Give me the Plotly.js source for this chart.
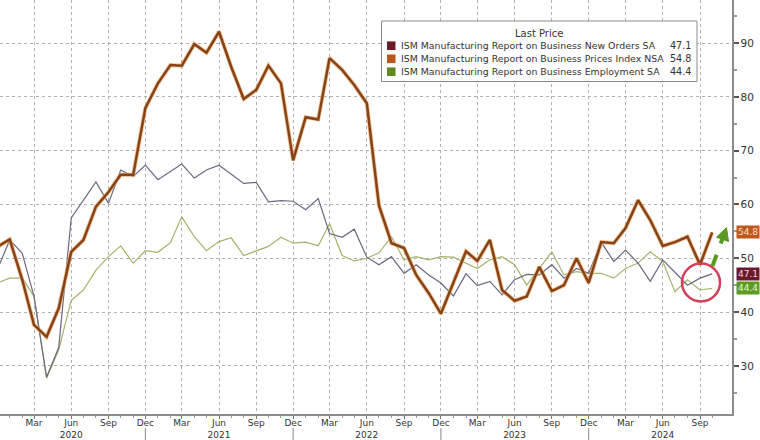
<!DOCTYPE html>
<html>
<head>
<meta charset="utf-8">
<script src="https://cdn.plot.ly/plotly-3.0.1.min.js"></script>
<style>
  html, body { margin: 0; padding: 0; background: #fff; }
  #chart { width: 760px; height: 440px; }
</style>
</head>
<body>
<div id="chart"></div>
<script>
// ---- Data ----
const months = [
  "2019-12",
  "2020-01","2020-02","2020-03","2020-04","2020-05","2020-06","2020-07","2020-08","2020-09","2020-10","2020-11","2020-12",
  "2021-01","2021-02","2021-03","2021-04","2021-05","2021-06","2021-07","2021-08","2021-09","2021-10","2021-11","2021-12",
  "2022-01","2022-02","2022-03","2022-04","2022-05","2022-06","2022-07","2022-08","2022-09","2022-10","2022-11","2022-12",
  "2023-01","2023-02","2023-03","2023-04","2023-05","2023-06","2023-07","2023-08","2023-09","2023-10","2023-11","2023-12",
  "2024-01","2024-02","2024-03","2024-04","2024-05","2024-06","2024-07","2024-08","2024-09","2024-10"
];

const newOrders = [
  47.8,
  53.4, 50.9, 42.9, 27.9, 33.4, 57.5, 60.8, 64.2, 60.2, 66.4, 65.2, 67.3,
  64.6, 66.1, 67.5, 64.9, 66.4, 67.3, 65.7, 63.9, 64.1, 60.5, 60.7, 60.6,
  59.0, 61.1, 54.6, 53.9, 55.4, 50.2, 48.8, 50.3, 47.2, 48.8, 46.9, 45.4,
  43.0, 47.1, 44.9, 45.7, 43.2, 46.0, 47.0, 46.9, 48.8, 46.3, 48.1, 47.2,
  53.0, 49.4, 51.5, 49.1, 45.7, 49.7, 47.4, 45.0, 46.3, 47.1
];

const prices = [
  52.1,
  53.5, 46.0, 37.6, 35.4, 40.7, 51.2, 53.4, 59.6, 62.3, 65.5, 65.5, 77.9,
  82.5, 85.9, 85.8, 89.8, 88.2, 92.1, 85.6, 79.6, 81.3, 85.8, 82.5, 68.2,
  76.2, 75.8, 87.2, 85.0, 82.2, 78.8, 59.8, 52.8, 51.9, 46.9, 43.5, 39.7,
  45.5, 51.3, 49.5, 53.4, 44.1, 42.1, 42.9, 48.4, 43.9, 45.0, 50.0, 45.4,
  53.0, 52.8, 55.6, 60.8, 57.1, 52.3, 53.0, 54.0, 48.8, 54.8
];

const employment = [
  45.4,
  46.3, 46.3, 42.9, 27.7, 33.0, 42.2, 44.1, 47.8, 50.3, 52.3, 49.1, 51.4,
  51.1, 52.9, 57.7, 54.0, 51.4, 53.1, 53.8, 50.5, 51.4, 52.2, 53.9, 52.8,
  53.0, 52.3, 56.4, 50.5, 49.5, 50.0, 51.0, 54.0, 49.7, 50.3, 49.7, 50.3,
  50.2, 49.1, 48.1, 49.7, 50.3, 48.8, 45.0, 48.1, 51.2, 46.9, 47.5, 47.2,
  47.2, 46.3, 48.1, 49.1, 51.2, 49.4, 43.8, 46.0, 44.1, 44.4
];

const seriesNames = [
  "ISM Manufacturing Report on Business New Orders SA",
  "ISM Manufacturing Report on Business Prices Index NSA",
  "ISM Manufacturing Report on Business Employment SA"
];

const tickDates = [
  "2020-03","2020-06","2020-09","2020-12",
  "2021-03","2021-06","2021-09","2021-12",
  "2022-03","2022-06","2022-09","2022-12",
  "2023-03","2023-06","2023-09","2023-12",
  "2024-03","2024-06","2024-09"
];
const tickLabels = [
  "Mar","Jun<br>2020","Sep","Dec",
  "Mar","Jun<br>2021","Sep","Dec",
  "Mar","Jun<br>2022","Sep","Dec",
  "Mar","Jun<br>2023","Sep","Dec",
  "Mar","Jun<br>2024","Sep"
];
const yearSeparators = ["2020-12","2021-12","2022-12","2023-12"];
const yTicks = [30, 40, 50, 60, 70, 80, 90];
const yMinorTicks = [25, 35, 45, 55, 65, 75, 85, 95];

// ---- Styles ----
const legendColors = ["#6a1a24", "#b9561c", "#5b8b22"];
const boxColors    = ["#6a1a2c", "#c0581c", "#5d9a22"];
const boxText      = ["#f3d6dc", "#fbe0c8", "#e6f3d2"];
const FONT = "DejaVu Sans, Verdana, sans-serif";

const W = 760, H = 440;
const M = { l: 0, r: 28, t: 0, b: 26 };
const PW = W - M.l - M.r, PH = H - M.t - M.b;
const px = x => (x - M.l) / PW;
const py = y => 1 - (y - M.t) / PH;

const last = arr => arr[arr.length - 1];
const seriesData = [newOrders, prices, employment];

const traces = [
  { x: months, y: employment, type: "scatter", mode: "lines",
    line: { color: "#a2b46c", width: 1.2 }, hoverinfo: "skip" },
  { x: months, y: newOrders, type: "scatter", mode: "lines",
    line: { color: "#6d6880", width: 1.2 }, hoverinfo: "skip" },
  { x: months, y: prices, type: "scatter", mode: "lines",
    line: { color: "#f2a55a", width: 4.2 }, opacity: 0.65, hoverinfo: "skip" },
  { x: months, y: prices, type: "scatter", mode: "lines",
    line: { color: "#85431a", width: 2.5 }, hoverinfo: "skip" }
];

const shapes = [];
const annotations = [];

// Year separator lines below the x axis
yearSeparators.forEach(d => {
  shapes.push({ type: "line", xref: "x", yref: "paper", x0: d, x1: d,
    y0: -0.034, y1: -0.07, line: { color: "#888", width: 1 } });
});

// Legend box
shapes.push({ type: "rect", xref: "paper", yref: "paper",
  x0: px(381.5), x1: px(697), y0: py(81.5), y1: py(21),
  line: { color: "#8a8a8a", width: 1 }, fillcolor: "#ffffff", layer: "above" });

annotations.push({ xref: "paper", yref: "paper", x: px(539), y: py(33.5),
  text: "Last Price", showarrow: false, xanchor: "center", yanchor: "middle",
  font: { family: FONT, size: 10, color: "#333" } });

const rowY = [45.7, 58.8, 71.7];
seriesNames.forEach((name, i) => {
  shapes.push({ type: "rect", xref: "paper", yref: "paper",
    x0: px(387), x1: px(395.5), y0: py(rowY[i] + 4.3), y1: py(rowY[i] - 4.3),
    line: { width: 0 }, fillcolor: legendColors[i], layer: "above" });
  annotations.push({ xref: "paper", yref: "paper", x: px(398.5), y: py(rowY[i]),
    text: name, showarrow: false, xanchor: "left", yanchor: "middle",
    font: { family: FONT, size: 9.4, color: "#333" } });
  annotations.push({ xref: "paper", yref: "paper", x: px(693), y: py(rowY[i]),
    text: last(seriesData[i]).toFixed(1), showarrow: false, xanchor: "right", yanchor: "middle",
    font: { family: FONT, size: 9.6, color: "#333" } });
  // value tags on the right axis
  annotations.push({ xref: "paper", yref: "y", x: px(736), y: last(seriesData[i]),
    text: last(seriesData[i]).toFixed(1), showarrow: false, xanchor: "left", yanchor: "middle",
    bgcolor: boxColors[i], borderpad: 1,
    font: { family: FONT, size: 9, color: boxText[i] } });
});

// Red highlight circle
shapes.push({ type: "circle", xref: "paper", yref: "paper",
  x0: px(682), x1: px(720), y0: py(301.5), y1: py(263.5),
  line: { color: "#d4405a", width: 2.5 }, layer: "above" });

// Green dashed arrow
shapes.push({ type: "line", xref: "paper", yref: "paper",
  x0: px(712.5), y0: py(266), x1: px(722.5), y1: py(238.5),
  line: { color: "#5a9a22", width: 4, dash: "dash" }, layer: "above" });
const tip = [726.5, 227.5], base1 = [728.5, 241.5], base2 = [716.5, 237.2];
shapes.push({ type: "path", xref: "paper", yref: "paper",
  path: `M ${px(tip[0])} ${py(tip[1])} L ${px(base1[0])} ${py(base1[1])} L ${px(base2[0])} ${py(base2[1])} Z`,
  fillcolor: "#5a9a22", line: { color: "#5a9a22", width: 1 }, layer: "above" });

const layout = {
  width: W, height: H,
  margin: M,
  paper_bgcolor: "#ffffff", plot_bgcolor: "#ffffff",
  showlegend: false,
  xaxis: {
    type: "date",
    range: ["2019-12-08", "2024-11-19"],
    tickmode: "array", tickvals: tickDates, ticktext: tickLabels,
    showgrid: true, gridcolor: "#b0b0b0", griddash: "dot", gridwidth: 1,
    ticks: "outside", ticklen: 3, tickcolor: "#777",
    ticklabelstandoff: -3,
    showline: true, linecolor: "#8c8c8c", linewidth: 1.5,
    tickfont: { family: FONT, size: 9, color: "#333" },
    minor: { tickmode: "array", tickvals: months, ticks: "outside", ticklen: 2, tickcolor: "#999", showgrid: false },
    zeroline: false, fixedrange: true
  },
  yaxis: {
    side: "right",
    range: [21.05, 98],
    tickmode: "array", tickvals: yTicks,
    showgrid: true, gridcolor: "#b0b0b0", griddash: "dot", gridwidth: 1,
    ticks: "outside", ticklen: 5, tickwidth: 2, tickcolor: "#555",
    showline: true, linecolor: "#8c8c8c", linewidth: 1.5,
    tickfont: { family: FONT, size: 10.5, color: "#333" },
    minor: { tickmode: "array", tickvals: yMinorTicks, ticks: "outside", ticklen: 3, tickcolor: "#999", showgrid: false },
    zeroline: false, fixedrange: true
  },
  shapes: shapes,
  annotations: annotations
};

Plotly.newPlot("chart", traces, layout, { staticPlot: true, displayModeBar: false });
</script>
</body>
</html>
